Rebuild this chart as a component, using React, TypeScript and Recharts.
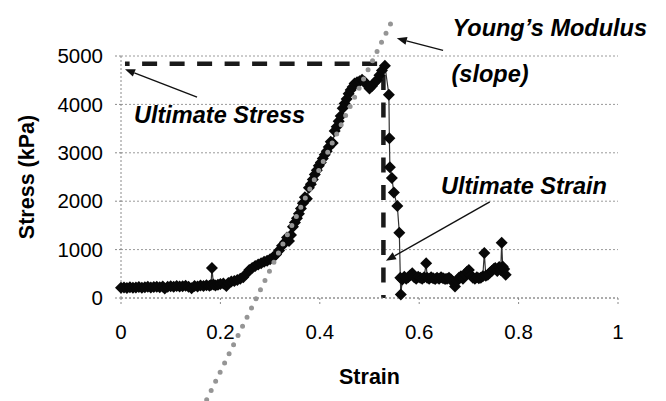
import { ComposedChart, Line, XAxis, YAxis, CartesianGrid, ReferenceLine } from "recharts";

// measured stress-strain curve (strain, kPa)
const strainVals = [
  0.0, 0.006, 0.012, 0.018, 0.024, 0.03, 0.036, 0.042, 0.048, 0.054, 0.06, 0.066, 0.072, 0.078, 0.084, 0.088,
  0.094, 0.1, 0.106, 0.112, 0.118, 0.124, 0.13, 0.136, 0.142, 0.148, 0.154, 0.16, 0.166, 0.172, 0.178, 0.181,
  0.183, 0.186, 0.19, 0.195, 0.2, 0.206, 0.212, 0.216, 0.222, 0.228, 0.234, 0.24, 0.246, 0.252, 0.258, 0.264,
  0.27, 0.276, 0.282, 0.288, 0.294, 0.3, 0.306, 0.312, 0.318, 0.324, 0.33, 0.334, 0.338, 0.342, 0.346, 0.35,
  0.354, 0.358, 0.362, 0.366, 0.37, 0.374, 0.378, 0.382, 0.386, 0.39, 0.394, 0.398, 0.402, 0.406, 0.41, 0.414,
  0.418, 0.422, 0.426, 0.43, 0.434, 0.438, 0.442, 0.446, 0.45, 0.454, 0.458, 0.462, 0.466, 0.47, 0.475, 0.48,
  0.485, 0.49, 0.495, 0.5, 0.505, 0.51, 0.515, 0.52, 0.525, 0.531, 0.539, 0.54, 0.541, 0.545, 0.549, 0.556,
  0.56, 0.562, 0.563, 0.566, 0.57, 0.574, 0.578, 0.582, 0.586, 0.59, 0.594, 0.598, 0.602, 0.606, 0.61, 0.614,
  0.616, 0.62, 0.624, 0.628, 0.632, 0.636, 0.64, 0.644, 0.648, 0.652, 0.656, 0.66, 0.664, 0.668, 0.672, 0.676,
  0.68, 0.684, 0.688, 0.692, 0.696, 0.7, 0.704, 0.708, 0.712, 0.716, 0.72, 0.724, 0.728, 0.731, 0.734, 0.738,
  0.742, 0.746, 0.75, 0.753, 0.757, 0.761, 0.764, 0.766, 0.768, 0.771, 0.774,
];
const stressVals = [
  210, 215, 205, 220, 210, 215, 225, 210, 220, 230, 215, 225, 235, 220, 240, 195,
  230, 245, 235, 250, 240, 245, 255, 235, 200, 250, 240, 260, 250, 265, 255, 270,
  620, 280, 260, 275, 290, 300, 250, 310, 340, 350, 370, 400, 430, 500, 580, 620,
  660, 690, 720, 750, 770, 800, 840, 900, 980, 1080, 1150, 1250, 1180, 1300, 1470, 1560,
  1650, 1740, 1850, 1960, 2080, 2050, 2280, 2350, 2450, 2550, 2640, 2730, 2800, 2880, 2960, 3030,
  3120, 3230, 3200, 3450, 3540, 3650, 3760, 3920, 4020, 4110, 4220, 4300, 4360, 4430, 4460, 4480,
  4510, 4470, 4400, 4330, 4380, 4450, 4500, 4600, 4700, 4800, 4200, 3300, 2700, 2480, 2180, 1900,
  1350, 420, 70, 380, 440, 400, 430, 470, 510, 430, 400, 440, 420, 400, 430, 720,
  420, 400, 430, 410, 390, 420, 400, 430, 410, 390, 400, 420, 380, 330, 240, 350,
  420, 450, 400, 480, 540, 580, 470, 420, 400, 430, 410, 420, 450, 930, 460, 480,
  520, 560, 600, 620, 560, 640, 580, 1140, 650, 600, 480,
];

// Young's modulus fit line (two end points)
const youngStrain = [0.1724, 0.5507];
const youngStress = [-2100, 5839];

// ultimate stress / strain markers
const ultimateStress = 4840;
const ultimateStrain = 0.528;
const stressLineStart = 0.008;

// annotation arrows: [tailStrain, tailStress, headStrain, headStress]
const arrowUltStress = [0.153, 4149, 0.008, 4726];
const arrowYoung = [0.648, 5117, 0.555, 5365];
const arrowUltStrain = [0.742, 1985, 0.533, 769];

const xTicks = [0, 0.2, 0.4, 0.6, 0.8, 1];
const yTicks = [0, 1000, 2000, 3000, 4000, 5000];

const mainData = strainVals.map((s, i) => ({ strain: s, stress: stressVals[i] }));
const youngData = youngStrain.map((s, i) => ({ strain: s, stress: youngStress[i] }));

const W = 666;
const H = 401;
const PLOT_TOP = 56;
const PLOT_BOTTOM = 298;
const PLOT_LEFT = 121;
const PLOT_RIGHT = 618;
const pxPerKpa = (PLOT_BOTTOM - PLOT_TOP) / 5000;
// overlay chart spans the full height with the same scale
const extDomain = [-(H - PLOT_BOTTOM) / pxPerKpa, 5000 + PLOT_TOP / pxPerKpa];

const FONT = '"Liberation Sans", Arial, sans-serif';

const Diamond = (props: any) => {
  const { cx, cy, index } = props;
  if (cx == null || cy == null) return null;
  const r = 6;
  return (
    <polygon
      key={`d-${index}`}
      points={`${cx},${cy - r} ${cx + r},${cy} ${cx},${cy + r} ${cx - r},${cy}`}
      fill="#080808"
    />
  );
};

const Arrow = (props: any) => {
  const { x1, y1, x2, y2 } = props;
  const ang = Math.atan2(y2 - y1, x2 - x1);
  const len = 10;
  const half = 4;
  const bx = x2 - len * Math.cos(ang);
  const by = y2 - len * Math.sin(ang);
  const px = -Math.sin(ang) * half;
  const py = Math.cos(ang) * half;
  return (
    <g>
      <line x1={x1} y1={y1} x2={bx} y2={by} stroke="#111" strokeWidth={1.4} />
      <polygon points={`${x2},${y2} ${bx + px},${by + py} ${bx - px},${by - py}`} fill="#111" />
    </g>
  );
};

const seg = (a: number[]) => [
  { x: a[0], y: a[1] },
  { x: a[2], y: a[3] },
];

const noteStyle: any = {
  position: "absolute",
  fontFamily: FONT,
  fontSize: 23.5,
  fontWeight: "bold",
  fontStyle: "italic",
  lineHeight: 1,
  whiteSpace: "nowrap",
  color: "#000",
};

export default function App() {
  return (
    <div style={{ position: "absolute", left: 0, top: 0, width: W, height: H, background: "#fff", fontFamily: FONT }}>
      <div style={{ position: "absolute", left: 0, top: 0 }}>
        <ComposedChart
          width={W}
          height={H}
          data={mainData}
          margin={{ top: PLOT_TOP, right: W - PLOT_RIGHT, bottom: H - PLOT_BOTTOM - 86, left: 0 }}
        >
          <CartesianGrid vertical={false} stroke="#9a9a9a" strokeDasharray="2 2" />
          <XAxis
            type="number"
            dataKey="strain"
            domain={[0, 1]}
            ticks={xTicks}
            height={86}
            tickSize={6}
            tickMargin={20}
            stroke="#8a8a8a"
            strokeDasharray="2 2"
            tick={{ fontSize: 20.5, fill: "#000" }}
            label={{ value: "Strain", position: "insideBottom", offset: 0, style: { fontSize: 21.5, fontWeight: "bold", fill: "#000" } }}
          />
          <YAxis
            type="number"
            domain={[0, 5000]}
            ticks={yTicks}
            width={PLOT_LEFT}
            tickSize={6}
            tickMargin={12}
            stroke="#8a8a8a"
            strokeDasharray="2 2"
            tick={{ fontSize: 20.5, fill: "#000" }}
            label={{
              value: "Stress (kPa)",
              angle: -90,
              position: "insideLeft",
              offset: 26,
              style: { textAnchor: "middle", fontSize: 21.5, fontWeight: "bold", fill: "#000" },
            }}
          />
          <ReferenceLine
            segment={[
              { x: ultimateStrain, y: ultimateStress },
              { x: stressLineStart, y: ultimateStress },
            ]}
            stroke="#1a1a1a"
            strokeWidth={4.5}
            strokeDasharray="15 12.5"
            strokeDashoffset={21.2}
          />
          <ReferenceLine
            segment={[
              { x: ultimateStrain, y: 0 },
              { x: ultimateStrain, y: ultimateStress },
            ]}
            stroke="#1a1a1a"
            strokeWidth={4.5}
            strokeDasharray="15 12.5"
            strokeDashoffset={12}
          />
          <Line
            type="linear"
            dataKey="stress"
            stroke="#333"
            strokeWidth={1.2}
            dot={Diamond}
            activeDot={false}
            isAnimationActive={false}
          />
        </ComposedChart>
      </div>
      <div style={{ position: "absolute", left: 0, top: 0, pointerEvents: "none" }}>
        <ComposedChart width={W} height={H} margin={{ top: 0, right: W - PLOT_RIGHT, bottom: 0, left: PLOT_LEFT }}>
          <XAxis type="number" dataKey="strain" domain={[0, 1]} allowDataOverflow hide />
          <YAxis type="number" domain={extDomain} allowDataOverflow hide />
          <Line
            data={youngData}
            type="linear"
            dataKey="stress"
            stroke="#959595"
            strokeWidth={5}
            strokeDasharray="0 10.2"
            strokeLinecap="round"
            dot={false}
            activeDot={false}
            isAnimationActive={false}
          />
          <ReferenceLine segment={seg(arrowUltStress)} shape={Arrow} ifOverflow="visible" />
          <ReferenceLine segment={seg(arrowYoung)} shape={Arrow} ifOverflow="visible" />
          <ReferenceLine segment={seg(arrowUltStrain)} shape={Arrow} ifOverflow="visible" />
        </ComposedChart>
      </div>
      <div style={{ ...noteStyle, left: 134, top: 104 }}>Ultimate Stress</div>
      <div style={{ ...noteStyle, left: 452.5, top: 17 }}>Young’s Modulus</div>
      <div style={{ ...noteStyle, left: 451.5, top: 62.5 }}>(slope)</div>
      <div style={{ ...noteStyle, left: 441, top: 175 }}>Ultimate Strain</div>
    </div>
  );
}
